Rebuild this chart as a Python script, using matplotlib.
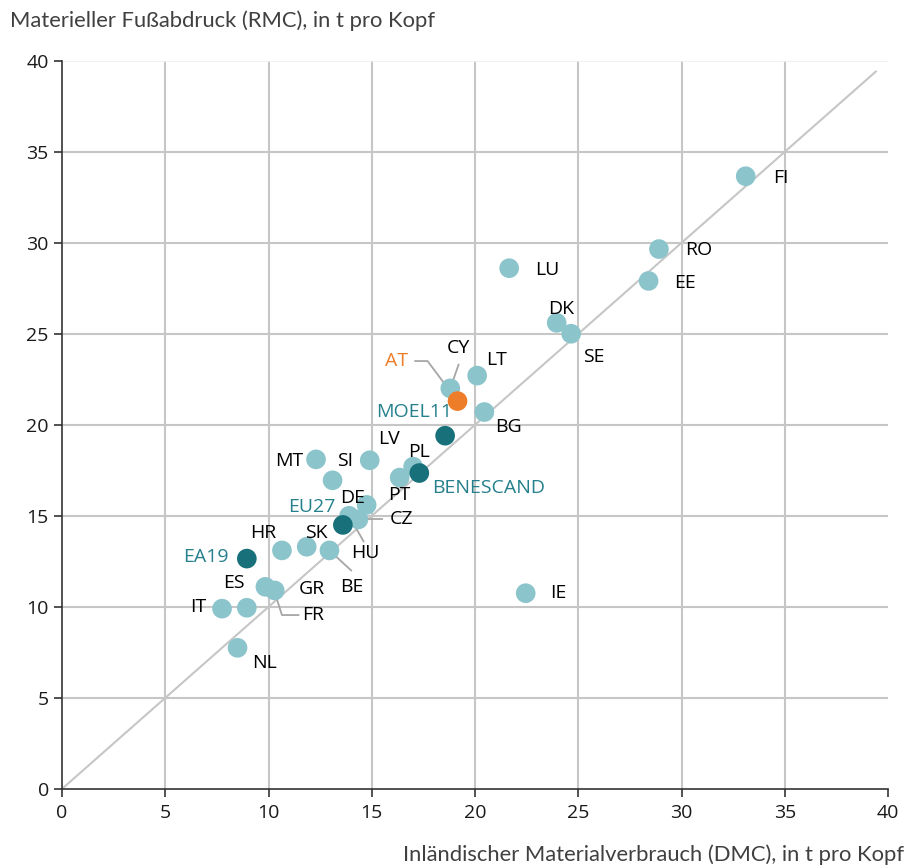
import numpy as np
import matplotlib.pyplot as plt

plt.rcParams['font.family'] = ['Open Sans', 'DejaVu Sans']

# country data: DMC (x) and RMC (y), t per capita
countries = ['FI', 'RO', 'EE', 'LU', 'DK', 'SE', 'CY', 'LT', 'BG', 'LV', 'MT', 'SI',
             'PL', 'PT', 'DE', 'HU', 'CZ', 'BE', 'HR', 'SK', 'ES', 'FR', 'GR', 'IT',
             'NL', 'IE']
dmc = [33.1, 28.9, 28.4, 21.65, 23.95, 24.65, 18.8, 20.1, 20.45, 14.9, 12.3, 13.1,
       17.0, 16.35, 14.75, 13.9, 14.35, 12.95, 10.65, 11.85, 9.85, 10.3, 8.95, 7.75,
       8.5, 22.45]
rmc = [33.65, 29.65, 27.9, 28.6, 25.6, 25.0, 22.0, 22.7, 20.7, 18.05, 18.1, 16.95,
       17.7, 17.1, 15.6, 15.0, 14.8, 13.1, 13.1, 13.3, 11.1, 10.9, 9.95, 9.9,
       7.75, 10.75]

# aggregates
groups = ['MOEL11', 'BENESCAND', 'EU27', 'EA19']
g_dmc = [18.55, 17.3, 13.6, 8.95]
g_rmc = [19.4, 17.35, 14.5, 12.65]

# Austria highlighted
at_dmc, at_rmc = 19.15, 21.3

c_light = '#8cc4cc'
c_dark = '#17707a'
c_text_teal = '#25808c'
c_orange = '#ee7d2a'
c_grid = '#c6c6c6'

# label placement (text centre in data coords)
lab_pos = {
    'FI': (34.8, 33.55), 'RO': (30.85, 29.6), 'EE': (30.15, 27.8), 'LU': (23.5, 28.5),
    'DK': (24.15, 26.35), 'SE': (25.75, 23.7), 'CY': (19.2, 24.2), 'LT': (21.05, 23.55),
    'BG': (21.6, 19.9), 'LV': (15.85, 19.2), 'MT': (11.0, 18.0), 'SI': (13.7, 18.0),
    'PL': (17.3, 18.5), 'PT': (16.35, 16.15), 'DE': (14.05, 16.0), 'HU': (14.7, 12.95),
    'CZ': (16.45, 14.85), 'BE': (14.05, 11.1), 'HR': (9.75, 14.05), 'SK': (12.3, 14.05),
    'ES': (8.3, 11.3), 'FR': (12.15, 9.55), 'GR': (12.1, 11.0), 'IT': (6.6, 10.0),
    'NL': (9.8, 6.9), 'IE': (24.05, 10.75),
}
g_lab_pos = {'MOEL11': (17.05, 20.7), 'BENESCAND': (20.65, 16.5),
             'EU27': (12.1, 15.5), 'EA19': (6.95, 12.75)}

fig = plt.figure(figsize=(9.11, 8.66), dpi=100)
ax = fig.add_axes([0.068, 0.089, 0.907, 0.841])

ax.set_xlim(0, 40)
ax.set_ylim(0, 40)

for v in range(5, 40, 5):
    ax.axvline(v, color=c_grid, lw=1.5, zorder=0)
for v in range(5, 40, 5):
    ax.axhline(v, color=c_grid, lw=1.5, zorder=0)
ax.axhline(40, color='#eeeeee', lw=1.2, zorder=0)

ax.plot([0, 39.4], [0, 39.4], color=c_grid, lw=1.5, zorder=1)

ax.scatter(dmc, rmc, s=200, color=c_light, edgecolors='none', zorder=3)
ax.scatter(g_dmc, g_rmc, s=200, color=c_dark, edgecolors='none', zorder=4)
ax.scatter([at_dmc], [at_rmc], s=200, color=c_orange, edgecolors='none', zorder=5)

fs = 14
leaders = {'CY': (19.2, 23.3), 'HU': (14.6, 13.6), 'CZ': (15.5, 14.8),
           'BE': (14.0, 12.0)}
for name, x, y in zip(countries, dmc, rmc):
    tx, ty = lab_pos[name]
    ax.text(tx, ty, name, fontsize=fs, color='black', ha='center', va='center', zorder=6)
    if name in leaders:
        ex, ey = leaders[name]
        ax.plot([x, ex], [y, ey], color='#a6a6a6', lw=1.3, zorder=2)

# bent leader lines
ax.plot([10.3, 10.65, 11.45], [10.8, 9.55, 9.55], color='#a6a6a6', lw=1.3, zorder=2)
ax.plot([17.1, 17.7, at_dmc], [23.5, 23.5, at_rmc], color='#a6a6a6', lw=1.3, zorder=2)

for name in groups:
    tx, ty = g_lab_pos[name]
    ax.text(tx, ty, name, fontsize=fs, color=c_text_teal, ha='center', va='center', zorder=6)
ax.text(16.2, 23.5, 'AT', fontsize=fs, color=c_orange, ha='center', va='center', zorder=6)

ax.set_xticks(range(0, 41, 5))
ax.set_yticks(range(0, 41, 5))
ax.tick_params(axis='both', direction='out', length=6, width=1.2, color='#333333',
               labelsize=14, labelcolor='#1a1a1a')
ax.tick_params(axis='x', pad=5)
for s in ['top', 'right']:
    ax.spines[s].set_visible(False)
for s in ['left', 'bottom']:
    ax.spines[s].set_color('#333333')
    ax.spines[s].set_linewidth(1.2)

fig.text(0.011, 0.976, 'Materieller Fußabdruck (RMC), in t pro Kopf', fontsize=15.8,
         family=['Lato', 'DejaVu Sans'], color='#404040', ha='left', va='center')
fig.text(0.993, 0.013, 'Inländischer Materialverbrauch (DMC), in t pro Kopf', fontsize=15.8,
         family=['Lato', 'DejaVu Sans'], color='#404040', ha='right', va='center')

fig.savefig('out.png', dpi=100)
